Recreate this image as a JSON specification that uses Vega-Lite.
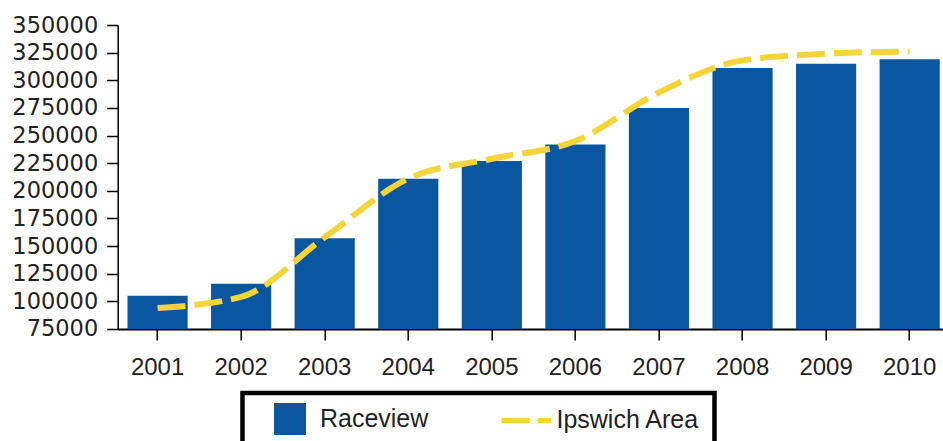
{
  "$schema": "https://vega.github.io/schema/vega-lite/v6.json",
  "autosize": {"type": "none"},
  "width": 825,
  "height": 304,
  "padding": {"left": 117.7, "top": 25, "right": 0, "bottom": 112},
  "background": "white",
  "config": {
    "view": {"stroke": null},
    "axis": {"grid": false, "domainColor": "#000", "domainWidth": 1.5, "tickColor": "#000", "tickWidth": 1.5, "tickSize": 11, "labelColor": "#222", "title": null}
  },
  "data": {
    "values": [
      {"year": "2001", "series": "Raceview", "value": 105000},
      {"year": "2002", "series": "Raceview", "value": 116000},
      {"year": "2003", "series": "Raceview", "value": 157000},
      {"year": "2004", "series": "Raceview", "value": 211000},
      {"year": "2005", "series": "Raceview", "value": 227000},
      {"year": "2006", "series": "Raceview", "value": 242000},
      {"year": "2007", "series": "Raceview", "value": 275000},
      {"year": "2008", "series": "Raceview", "value": 311000},
      {"year": "2009", "series": "Raceview", "value": 315000},
      {"year": "2010", "series": "Raceview", "value": 319000},
      {"year": "2001", "series": "Ipswich Area", "value": 94000},
      {"year": "2002", "series": "Ipswich Area", "value": 104000},
      {"year": "2003", "series": "Ipswich Area", "value": 158000},
      {"year": "2004", "series": "Ipswich Area", "value": 211000},
      {"year": "2005", "series": "Ipswich Area", "value": 229000},
      {"year": "2006", "series": "Ipswich Area", "value": 245000},
      {"year": "2007", "series": "Ipswich Area", "value": 289000},
      {"year": "2008", "series": "Ipswich Area", "value": 318000},
      {"year": "2009", "series": "Ipswich Area", "value": 324000},
      {"year": "2010", "series": "Ipswich Area", "value": 326000}
    ]
  },
  "encoding": {
    "x": {
      "field": "year", "type": "ordinal",
      "scale": {"paddingInner": 0.28, "paddingOuter": 0.076, "align": 0.77},
      "axis": {"labelAngle": 0, "labelFont": "Liberation Sans", "labelFontSize": 24, "labelPadding": 16, "domainWidth": 2}
    },
    "y": {
      "field": "value", "type": "quantitative",
      "scale": {"domain": [75000, 350000], "zero": false, "nice": false},
      "axis": {"values": [75000, 100000, 125000, 150000, 175000, 200000, 225000, 250000, 275000, 300000, 325000, 350000], "format": "d", "labelFont": "DejaVu Sans", "labelFontSize": 22.5, "labelPadding": 9}
    },
    "color": {
      "field": "series", "type": "nominal",
      "scale": {"domain": ["Raceview", "Ipswich Area"], "range": ["#0a579f", "#f3d53b"]},
      "legend": {
        "orient": "none", "legendX": 124.8, "legendY": 368, "direction": "horizontal",
        "title": " ", "titleOrient": "right", "titlePadding": 4.5, "titleFontSize": 25,
        "strokeColor": "#000", "padding": 10,
        "symbolSize": 1024, "symbolOffset": 21.5, "labelOffset": 14, "columnPadding": 60.5,
        "labelFont": "Liberation Sans", "labelFontSize": 25, "labelColor": "#222",
        "encode": {
          "legend": {"update": {"strokeWidth": {"value": 4.5}}},
          "symbols": {"update": {
            "shape": [{"test": "datum.value === 'Raceview'", "value": "square"}, {"value": "M-1.56,-0.16H0.19V0.16H-1.56Z M0.69,-0.16H1.56V0.16H0.69Z"}],
            "fill": [{"test": "datum.value === 'Raceview'", "value": "#0a579f"}, {"value": "#f3d53b"}],
            "stroke": {"value": "transparent"},
            "strokeWidth": {"value": 0},
            "size": {"value": 1024},
            "opacity": {"value": 1}
          }}
        }
      }
    }
  },
  "layer": [
    {
      "transform": [{"filter": "datum.series === 'Raceview'"}],
      "mark": {"type": "bar"},
      "encoding": {"y2": {"datum": 75000}}
    },
    {
      "transform": [{"filter": "datum.series === 'Ipswich Area'"}],
      "mark": {"type": "line", "interpolate": "monotone", "strokeWidth": 6, "strokeDash": [28, 9]}
    }
  ]
}
